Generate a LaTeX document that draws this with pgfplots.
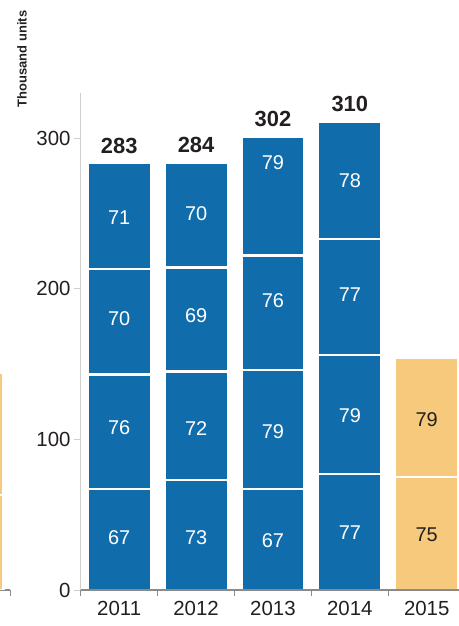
\documentclass[border=0pt]{standalone}
\usepackage{pgfplots}
\pgfplotsset{compat=1.18}
\usepackage{fontspec}
\setmainfont{Liberation Sans}
\definecolor{barblue}{HTML}{106CAB}
\definecolor{barorange}{HTML}{F6C97C}
\definecolor{txt}{HTML}{231F20}
\definecolor{axgray}{HTML}{8A8A8A}
\definecolor{lightax}{HTML}{CFCFCF}
\newcommand{\ticksz}{\fontsize{20.5}{24}\selectfont}
\newcommand{\segsz}{\fontsize{20}{24}\selectfont}
\newcommand{\totsz}{\fontsize{22}{26}\selectfont\bfseries}
\begin{document}
\begin{tikzpicture}
\path[use as bounding box] (0bp,0bp) rectangle (459bp,626bp);
% fragment of neighbouring chart on the left
\begin{axis}[at={(0bp,36bp)}, anchor=south west, scale only axis,
  width=10bp, height=497bp, xmin=0, xmax=1, ymin=0, ymax=330,
  ybar stacked, bar width=1,
  axis x line*=bottom, axis y line=none,
  x axis line style={draw=axgray, line width=1.2bp, -},
  xtick={1}, xticklabels={}, tick align=outside, major tick length=6bp,
  xtick style={draw=axgray, line width=0.8bp}]
\addplot[fill=barorange, draw=white, line width=2.5bp] coordinates {(-0.15,63)};
\addplot[fill=barorange, draw=white, line width=2.5bp] coordinates {(-0.15,81)};
\end{axis}
% 2015 bar (orange)
\begin{axis}[at={(80bp,36bp)}, anchor=south west, scale only axis,
  width=379bp, height=497bp, xmin=-0.51, xmax=4.42, ymin=0, ymax=330,
  ybar stacked, bar width=0.825, axis lines=none]
\addplot[fill=barorange, draw=white, line width=2.5bp] coordinates {(4,75)};
\addplot[fill=barorange, draw=white, line width=2.5bp] coordinates {(4,79)};
\end{axis}
% main axis
\begin{axis}[at={(80bp,36bp)}, anchor=south west, scale only axis,
  width=379bp, height=497bp, xmin=-0.51, xmax=4.42, ymin=0, ymax=330,
  ybar stacked, bar width=0.825, axis on top,
  axis x line*=bottom, axis y line*=left,
  x axis line style={draw=axgray, line width=1.2bp, -},
  y axis line style={draw=lightax, line width=0.8bp, -},
  xtick={0,1,2,3,4}, xticklabels={2011,2012,2013,2014,2015},
  minor xtick={-0.5,0.5,1.5,2.5,3.5},
  major x tick style={draw=none},
  minor x tick style={draw=axgray, line width=0.8bp},
  ytick={0,100,200,300},
  major y tick style={draw=lightax, line width=0.8bp},
  tick align=outside, major tick length=6bp, minor tick length=6bp,
  /pgf/number format/assume math mode=true,
  ticklabel style={font=\ticksz, text=txt},
  xticklabel style={yshift=-2bp}]
\addplot[fill=barblue, draw=white, line width=2.5bp] coordinates {(0,67) (1,73) (2,67) (3,77)};
\addplot[fill=barblue, draw=white, line width=2.5bp] coordinates {(0,76) (1,72) (2,79) (3,79)};
\addplot[fill=barblue, draw=white, line width=2.5bp] coordinates {(0,70) (1,69) (2,76) (3,77)};
\addplot[fill=barblue, draw=white, line width=2.5bp] coordinates {(0,71) (1,70) (2,79) (3,78)};
\end{axis}
% labels overlay
\begin{axis}[at={(80bp,36bp)}, anchor=south west, scale only axis,
  width=379bp, height=497bp, xmin=-0.51, xmax=4.42, ymin=0, ymax=330,
  axis lines=none, clip=false]
\node[font=\segsz, text=white] at (axis cs:0,34.5) {67};
\node[font=\segsz, text=white] at (axis cs:0,107.5) {76};
\node[font=\segsz, text=white] at (axis cs:0,180) {70};
\node[font=\segsz, text=white] at (axis cs:0,247) {71};
\node[font=\segsz, text=white] at (axis cs:1,35) {73};
\node[font=\segsz, text=white] at (axis cs:1,107.5) {72};
\node[font=\segsz, text=white] at (axis cs:1,182) {69};
\node[font=\segsz, text=white] at (axis cs:1,250) {70};
\node[font=\segsz, text=white] at (axis cs:2,32.5) {67};
\node[font=\segsz, text=white] at (axis cs:2,105) {79};
\node[font=\segsz, text=white] at (axis cs:2,192) {76};
\node[font=\segsz, text=white] at (axis cs:2,284) {79};
\node[font=\segsz, text=white] at (axis cs:3,38) {77};
\node[font=\segsz, text=white] at (axis cs:3,116) {79};
\node[font=\segsz, text=white] at (axis cs:3,196) {77};
\node[font=\segsz, text=white] at (axis cs:3,272) {78};
\node[font=\segsz, text=txt] at (axis cs:4,36.5) {75};
\node[font=\segsz, text=txt] at (axis cs:4,113) {79};
% totals
\node[font=\totsz, text=txt, anchor=base, yshift=10bp] at (axis cs:0,283) {283};
\node[font=\totsz, text=txt, anchor=base, yshift=10bp] at (axis cs:1,284) {284};
\node[font=\totsz, text=txt, anchor=base, yshift=10bp] at (axis cs:2,301) {302};
\node[font=\totsz, text=txt, anchor=base, yshift=10bp] at (axis cs:3,311) {310};
\end{axis}
\node[rotate=90, font=\fontsize{13}{15}\selectfont\bfseries, text=txt] at (22bp,567bp) {Thousand units};
\end{tikzpicture}
\end{document}
